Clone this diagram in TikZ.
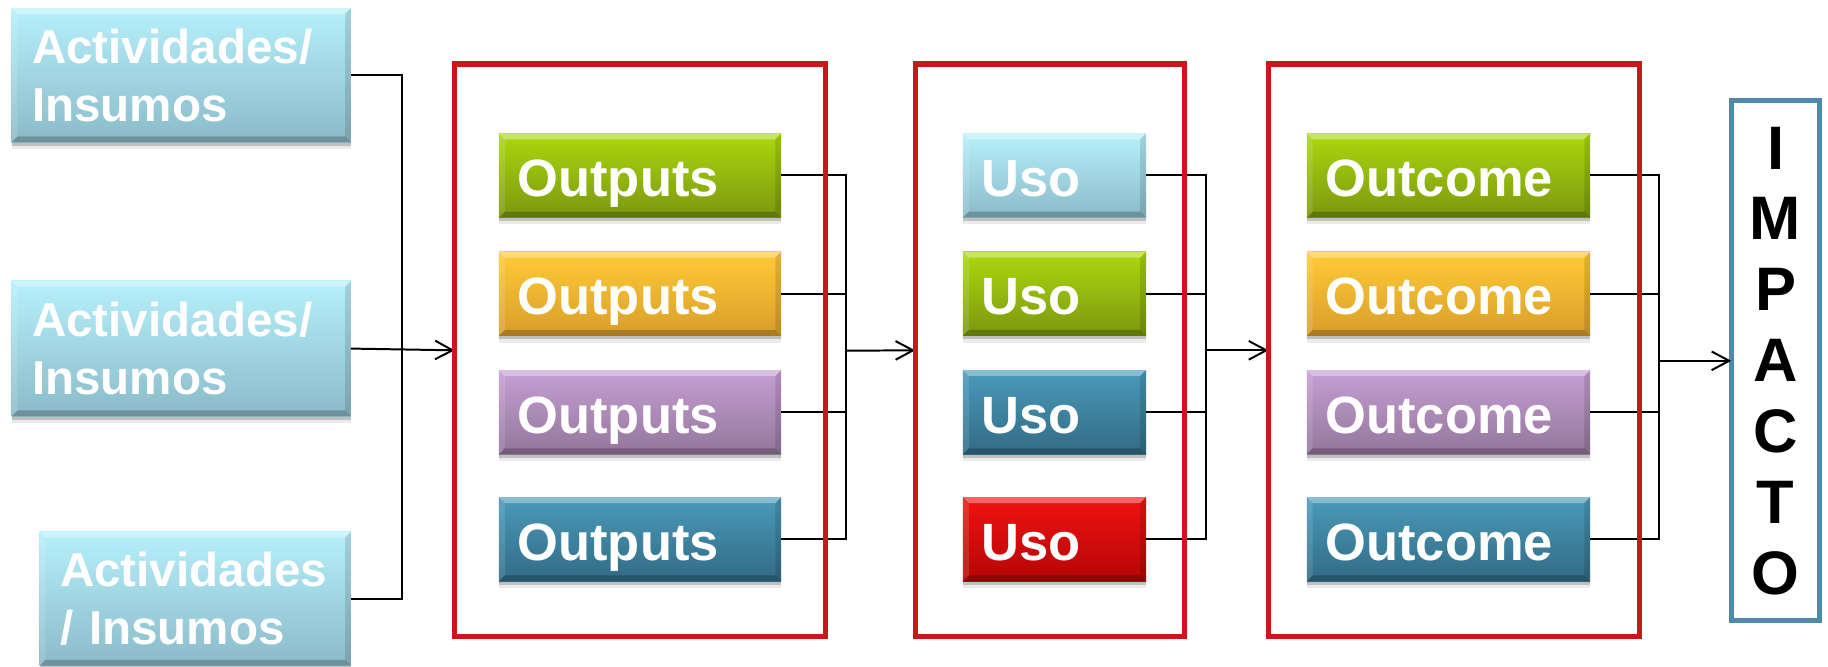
\documentclass[tikz,border=0pt]{standalone}
\usepackage{fontspec}
\setmainfont{Liberation Sans}
\usetikzlibrary{arrows.meta,shadows}
\definecolor{ltop}{HTML}{B6F0FB}\definecolor{lbot}{HTML}{8BBAC8}
\definecolor{gtop}{HTML}{ACD80E}\definecolor{gbot}{HTML}{7A980F}
\definecolor{otop}{HTML}{FFCB36}\definecolor{obot}{HTML}{D89E2B}
\definecolor{ptop}{HTML}{C69FD4}\definecolor{pbot}{HTML}{93769A}
\definecolor{btop}{HTML}{4A9ABB}\definecolor{bbot}{HTML}{326B84}
\definecolor{rtop}{HTML}{F21212}\definecolor{rbot}{HTML}{B40606}
\definecolor{redframe}{HTML}{CB1719}
\definecolor{impframe}{HTML}{4F8BA6}
\newcommand{\boxtext}[2]{\makebox[#1][l]{\raisebox{-18pt}[0pt][0pt]{#2}}}
\tikzset{
  bevel/.style={path picture={
    \fill[white,opacity=.35] (path picture bounding box.north west) -- (path picture bounding box.north east)
      -- ([shift={(-5pt,-5pt)}]path picture bounding box.north east) -- ([shift={(5pt,-5pt)}]path picture bounding box.north west) -- cycle;
    \fill[black,opacity=.22] (path picture bounding box.south west) -- (path picture bounding box.south east)
      -- ([shift={(-5pt,5pt)}]path picture bounding box.south east) -- ([shift={(5pt,5pt)}]path picture bounding box.south west) -- cycle;
    \fill[white,opacity=.12] (path picture bounding box.north west) -- (path picture bounding box.south west)
      -- ([shift={(5pt,5pt)}]path picture bounding box.south west) -- ([shift={(5pt,-5pt)}]path picture bounding box.north west) -- cycle;
    \fill[black,opacity=.12] (path picture bounding box.north east) -- (path picture bounding box.south east)
      -- ([shift={(-5pt,5pt)}]path picture bounding box.south east) -- ([shift={(-5pt,-5pt)}]path picture bounding box.north east) -- cycle;
  }},
  cbox/.style={rectangle, inner ysep=0pt, outer sep=0pt, bevel, text=white,
    general shadow={shadow yshift=-3pt,opacity=.18,fill=black},
    general shadow={shadow yshift=-6pt,opacity=.08,fill=black}},
  lbl/.style={cbox, minimum height=72pt, inner xsep=16pt,
    font=\fontsize{45}{54}\selectfont\bfseries},
  abox/.style={cbox, align=left, top color=ltop, bottom color=lbot, inner xsep=17.5pt,
    font=\fontsize{40.8}{50}\selectfont\bfseries},
  cl/.style={top color=ltop, bottom color=lbot},
  cg/.style={top color=gtop, bottom color=gbot},
  co/.style={top color=otop, bottom color=obot},
  cp/.style={top color=ptop, bottom color=pbot},
  cb/.style={top color=btop, bottom color=bbot},
  cr/.style={top color=rtop, bottom color=rbot},
  redfr/.style={draw=redframe, line width=4.5pt},
  framenode/.style={rectangle, outer sep=0pt, inner sep=0pt, minimum height=491pt},
  conn/.style={draw=black, line width=1.7pt},
  arr/.style={conn, -{Straight Barb[length=15pt,width=16pt]}},
  impbox/.style={rectangle, draw=impframe, line width=4.5pt, outer sep=0pt, inner sep=0pt, align=center,
    font=\fontsize{52.7}{60.8}\selectfont\bfseries, text=black}
}
\begin{document}
\begin{tikzpicture}[x=1pt,y=-1pt]
\useasboundingbox (0,0) rectangle (1568,572);
\fill[white] (0,0) rectangle (1568,572);
% frames (drawn later)
\node (f1) [framenode, minimum width=318pt] at (549,300.5) {};
\node (f2) [framenode, minimum width=231pt] at (900.5,300.5) {};
\node (f3) [framenode, minimum width=318pt] at (1247,300.5) {};
% activities
\node (act1) [abox, text width=256pt, minimum height=115pt] at (155.5,64.5) {Actividades/\\Insumos};
\node (act2) [abox, text width=256pt, minimum height=116pt] at (155.5,299) {Actividades/\\Insumos};
\node (act3) [abox, text width=232pt, minimum height=115pt] at (167.5,513.5) {Actividades\\/ Insumos};
% outputs
\node (o1) [lbl, cg] at (549,150.5) {\boxtext{210pt}{Outputs}};
\node (o2) [lbl, co] at (549,252) {\boxtext{210pt}{Outputs}};
\node (o3) [lbl, cp] at (549,353.5) {\boxtext{210pt}{Outputs}};
\node (o4) [lbl, cb] at (549,462.5) {\boxtext{210pt}{Outputs}};
% uso
\node (u1) [lbl, cl] at (904.5,150.5) {\boxtext{125pt}{Uso}};
\node (u2) [lbl, cg] at (904.5,252) {\boxtext{125pt}{Uso}};
\node (u3) [lbl, cb] at (904.5,353.5) {\boxtext{125pt}{Uso}};
\node (u4) [lbl, cr] at (904.5,462.5) {\boxtext{125pt}{Uso}};
% outcome
\node (c1) [lbl, cg] at (1242.5,150.5) {\boxtext{211pt}{Outcome}};
\node (c2) [lbl, co] at (1242.5,252) {\boxtext{211pt}{Outcome}};
\node (c3) [lbl, cp] at (1242.5,353.5) {\boxtext{211pt}{Outcome}};
\node (c4) [lbl, cb] at (1242.5,462.5) {\boxtext{211pt}{Outcome}};
% impacto
\node (imp) [impbox, minimum width=76pt, minimum height=446pt] at (1523,309.5) {I\\M\\P\\A\\C\\T\\O};
% bus coordinates
\coordinate (b1) at (345,300);
\coordinate (b2) at (726,300.8);
\coordinate (b3) at (1034.5,300.5);
\coordinate (b4) at (1423,309.5);
% connectors
\draw[conn] (act1.east) -| (b1) |- (act3.east);
\draw[arr] (act2.east) -- (f1.west);
\foreach \n in {o1,o2,o3,o4} \draw[conn] (\n.east) -| (b2);
\draw[arr] (b2) -- (f2.west);
\foreach \n in {u1,u2,u3,u4} \draw[conn] (\n.east) -| (b3);
\draw[arr] (b3) -- (f3.west);
\foreach \n in {c1,c2,c3,c4} \draw[conn] (\n.east) -| (b4);
\draw[arr] (b4) -- (imp.west);
% frames on top
\draw[redfr] (f1.south west) rectangle (f1.north east);
\draw[redfr] (f2.south west) rectangle (f2.north east);
\draw[redfr] (f3.south west) rectangle (f3.north east);
\end{tikzpicture}
\end{document}
